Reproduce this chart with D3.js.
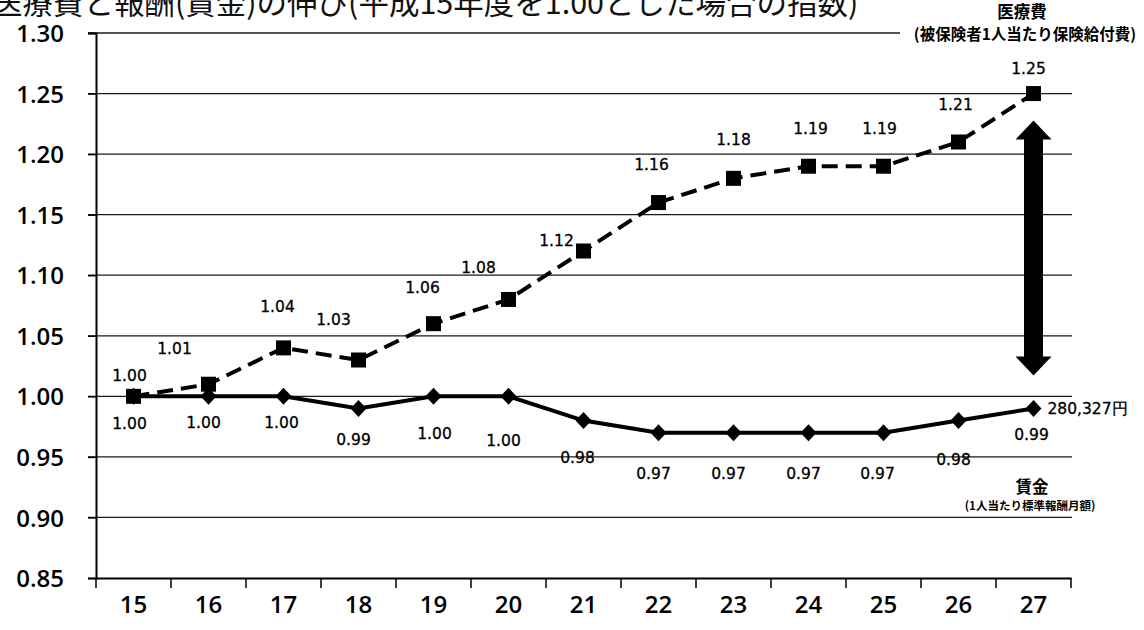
<!DOCTYPE html>
<html><head><meta charset="utf-8">
<script src="https://cdn.jsdelivr.net/npm/d3@7"></script>
<style>
html,body{margin:0;padding:0;background:#fff;}
svg{display:block;}
</style></head>
<body>
<svg id="c" width="1144" height="630"></svg>
<script>
// ---- data ----
const categories = ["15","16","17","18","19","20","21","22","23","24","25","26","27"];
const medical = [1.00,1.01,1.04,1.03,1.06,1.08,1.12,1.16,1.18,1.19,1.19,1.21,1.25];
const wage    = [1.00,1.00,1.00,0.99,1.00,1.00,0.98,0.97,0.97,0.97,0.97,0.98,0.99];
const yTicks  = [0.85,0.90,0.95,1.00,1.05,1.10,1.15,1.20,1.25,1.30];
const titleText = "医療費と報酬(賃金)の伸び(平成15年度を1.00とした場合の指数)";
const medName = "医療費", medSub = "(被保険者1人当たり保険給付費)";
const wageName = "賃金", wageSub = "(1人当たり標準報酬月額)";
const wageAmount = "280,327円";

// ---- layout (label nudges, px) ----
const medLabelDx = [-4,-34,-6,-25,-11,-30,-27,-7,0,2,-4,-3,-5];
const medLabelDy = [-21,-36,-42,-41,-37,-32,-11,-39,-39,-38,-38,-38,-26];
const wageLabelDx = [-4,-5,-2,-5,1,-5,-6,-5,-5,-5,-6,-5,-2];
const wageLabelDy = [27,26,26,31,37,44,36,40,40,40,40,38,26];

(function(){
const svg = d3.select("#c");
const x = d3.scaleBand().domain(categories).range([96,1071]).padding(0);
const y = d3.scaleLinear().domain([0.85,1.30]).range([578,33]);
const cx = d => x(d) + x.bandwidth()/2;

// title (cropped at top like reference)
svg.append("text").attr("x",-8).attr("y",14)
  .attr("font-family","'Noto Sans CJK JP'").attr("font-size",30.5)
  .attr("fill","#111").text(titleText);

// gridlines
svg.append("g").selectAll("line").data(yTicks.filter(t=>t>0.85)).join("line")
  .attr("x1",88).attr("x2",1072).attr("y1",d=>y(d)).attr("y2",d=>y(d))
  .attr("stroke","#1a1a1a").attr("stroke-width",1.3);

// y axis
const ya = svg.append("g").attr("transform","translate(96,0)")
  .call(d3.axisLeft(y).tickValues(yTicks).tickSize(8).tickPadding(24).tickFormat(d3.format(".2f")));
ya.select(".domain").attr("stroke","#000").attr("stroke-width",2);
ya.selectAll(".tick line").attr("stroke","#000").attr("stroke-width",1.5);
ya.selectAll("text").attr("font-family","'Open Sans'").attr("font-size",24)
  .attr("font-weight",600).attr("fill","#000").attr("dy","0.36em");

// x axis
const xa = svg.append("g").attr("transform","translate(0,578)")
  .call(d3.axisBottom(x).tickSize(0).tickPadding(18));
xa.select(".domain").attr("stroke","#000").attr("stroke-width",2);
xa.selectAll("text").attr("font-family","'Open Sans'").attr("font-size",24)
  .attr("font-weight",600).attr("fill","#000");
const bounds = categories.map(c=>x(c)).concat([x.range()[1]]);
xa.append("g").selectAll("line").data(bounds).join("line")
  .attr("x1",d=>d).attr("x2",d=>d).attr("y1",0).attr("y2",10)
  .attr("stroke","#000").attr("stroke-width",1.5);

// medical line (dashed)
const lineGen = d3.line().x((d,i)=>cx(categories[i])).y(d=>y(d));
svg.append("path").datum(medical).attr("d",lineGen)
  .attr("fill","none").attr("stroke","#000").attr("stroke-width",4)
  .attr("stroke-dasharray","16,8");
svg.append("g").selectAll("rect").data(medical).join("rect")
  .attr("x",(d,i)=>cx(categories[i])-7.5).attr("y",d=>y(d)-7.5)
  .attr("width",15).attr("height",15).attr("fill","#000");

// wage line (solid)
svg.append("path").datum(wage).attr("d",lineGen)
  .attr("fill","none").attr("stroke","#000").attr("stroke-width",4);
svg.append("g").selectAll("path").data(wage).join("path")
  .attr("d","M0,-8.5L8,0L0,8.5L-8,0Z")
  .attr("transform",(d,i)=>`translate(${cx(categories[i])},${y(d)})`)
  .attr("fill","#000");

// data labels
const lblFont = "'DejaVu Sans'";
svg.append("g").selectAll("text").data(medical).join("text")
  .attr("x",(d,i)=>cx(categories[i])+medLabelDx[i])
  .attr("y",(d,i)=>y(d)+medLabelDy[i]+6)
  .attr("text-anchor","middle").attr("font-family",lblFont).attr("font-size",15.5)
  .attr("stroke","#000").attr("stroke-width",0.3)
  .attr("fill","#000").text(d=>d.toFixed(2));
svg.append("g").selectAll("text").data(wage).join("text")
  .attr("x",(d,i)=>cx(categories[i])+wageLabelDx[i])
  .attr("y",(d,i)=>y(d)+wageLabelDy[i]+6)
  .attr("text-anchor","middle").attr("font-family",lblFont).attr("font-size",15.5)
  .attr("stroke","#000").attr("stroke-width",0.3)
  .attr("fill","#000").text(d=>d.toFixed(2));

// double-headed arrow at last category
const ax = cx(categories[categories.length-1]);
const aTop = y(medical[medical.length-1]) + 27;
const aBot = y(wage[wage.length-1]) - 33;
const sw = 9.5, hw = 18, hh = 19;
svg.append("path").attr("fill","#000").attr("d",
  `M${ax},${aTop} L${ax+hw},${aTop+hh} L${ax+sw},${aTop+hh} L${ax+sw},${aBot-hh} L${ax+hw},${aBot-hh}
   L${ax},${aBot} L${ax-hw},${aBot-hh} L${ax-sw},${aBot-hh} L${ax-sw},${aTop+hh} L${ax-hw},${aTop+hh} Z`);

// legend texts
svg.append("rect").attr("x",900).attr("y",22).attr("width",244).attr("height",24).attr("fill","#fff");
const cjk = "'Noto Sans CJK JP'";
svg.append("text").attr("x",1022).attr("y",18).attr("text-anchor","middle")
  .attr("font-family",cjk).attr("font-weight","bold").attr("font-size",16.5).text(medName);
svg.append("text").attr("x",1025).attr("y",40).attr("text-anchor","middle")
  .attr("font-family",cjk).attr("font-weight","bold").attr("font-size",15.5).text(medSub);
svg.append("text").attr("x",1032).attr("y",493).attr("text-anchor","middle")
  .attr("font-family",cjk).attr("font-weight","bold").attr("font-size",16.5).text(wageName);
svg.append("text").attr("x",1030).attr("y",510).attr("text-anchor","middle")
  .attr("font-family",cjk).attr("font-weight","bold").attr("font-size",11.5).text(wageSub);
svg.append("text").attr("x",ax+14).attr("y",y(wage[wage.length-1])+6)
  .attr("font-family",lblFont).attr("font-size",15.5)
  .attr("stroke","#000").attr("stroke-width",0.3).text(wageAmount);
})();
</script>
</body></html>
